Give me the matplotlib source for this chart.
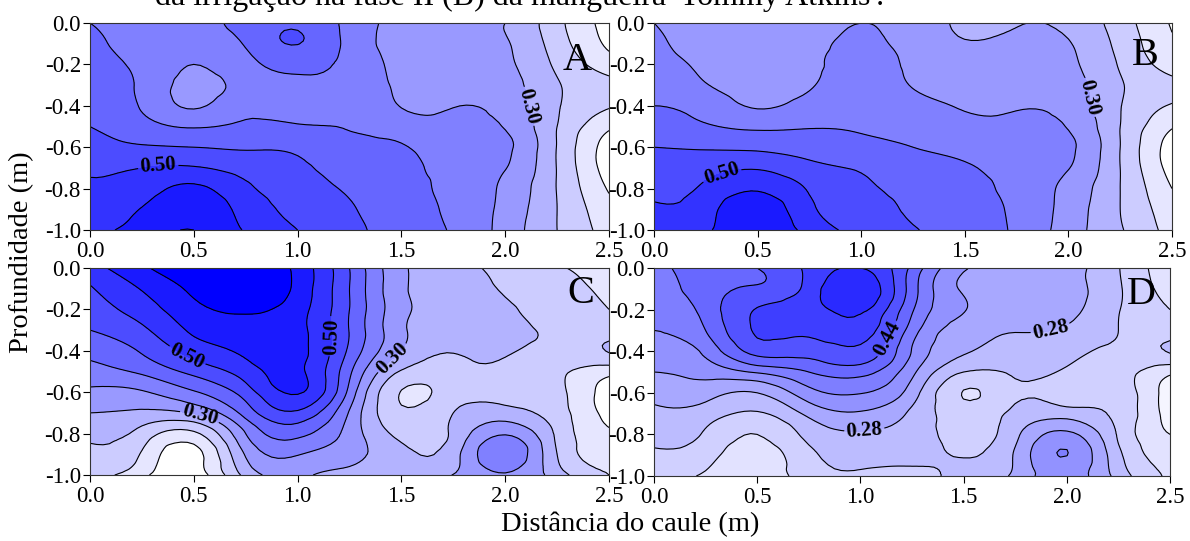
import numpy as np
import matplotlib
matplotlib.use("Agg")
import matplotlib.pyplot as plt
import matplotlib.tri as mtri

plt.rcParams['font.family'] = ['Liberation Serif', 'DejaVu Serif']

distance = [0.0, 0.25, 0.5, 0.75, 1.0, 1.25, 1.5, 1.75, 2.0, 2.25, 2.5]
depth = [0.0, -0.1, -0.2, -0.3, -0.4, -0.5, -0.6, -0.7, -0.8, -0.9, -1.0]

# each inner list is one column: values from depth 0.0 down to -1.0
panel_a = [
    [.40, .41, .42, .43, .44, .45, .467, .49, .51, .525, .54],
    [.38, .38, .385, .39, .395, .42, .455, .50, .525, .553, .57],
    [.375, .365, .35, .335, .345, .395, .45, .505, .56, .59, .60],
    [.425, .405, .385, .37, .385, .41, .445, .48, .51, .53, .545],
    [.44, .451, .415, .39, .385, .405, .44, .46, .475, .488, .50],
    [.385, .385, .385, .385, .39, .398, .413, .428, .443, .455, .465],
    [.33, .33, .335, .34, .348, .375, .405, .415, .42, .423, .425],
    [.31, .315, .32, .33, .348, .36, .37, .38, .385, .39, .395],
    [.30, .305, .31, .32, .33, .347, .36, .352, .34, .335, .33],
    [.215, .225, .24, .255, .255, .25, .248, .248, .248, .25, .25],
    [.13, .14, .175, .215, .205, .16, .125, .125, .145, .165, .18],
]
panel_b = [
    [.35, .365, .375, .39, .40, .425, .45, .47, .485, .51, .525],
    [.32, .325, .34, .352, .38, .405, .445, .48, .51, .53, .54],
    [.32, .32, .325, .33, .345, .39, .44, .495, .545, .585, .60],
    [.33, .335, .34, .345, .37, .397, .43, .463, .495, .51, .53],
    [.35, .36, .365, .375, .385, .395, .415, .445, .46, .475, .49],
    [.325, .33, .34, .347, .37, .385, .40, .415, .43, .44, .455],
    [.295, .302, .315, .33, .345, .365, .385, .405, .415, .42, .425],
    [.298, .31, .32, .33, .345, .36, .37, .38, .385, .39, .392],
    [.29, .303, .31, .32, .33, .347, .36, .352, .335, .33, .325],
    [.225, .235, .245, .255, .252, .25, .25, .25, .25, .25, .255],
    [.145, .155, .175, .215, .195, .155, .125, .13, .15, .17, .18],
]
panel_c = [
    [.53, .495, .475, .45, .415, .38, .34, .30, .265, .235, .21],
    [.59, .553, .525, .49, .455, .41, .345, .29, .23, .195, .165],
    [.65, .615, .585, .56, .52, .465, .395, .305, .19, .13, .12],
    [.66, .66, .61, .585, .56, .525, .475, .42, .35, .305, .265],
    [.585, .585, .57, .565, .565, .56, .555, .49, .415, .353, .31],
    [.45, .45, .45, .448, .44, .41, .385, .345, .33, .315, .29],
    [.31, .31, .315, .31, .298, .245, .198, .21, .235, .265, .28],
    [.27, .275, .275, .265, .252, .235, .225, .25, .26, .28, .302],
    [.23, .245, .255, .262, .255, .24, .24, .27, .345, .39, .345],
    [.205, .225, .235, .24, .235, .21, .213, .222, .24, .25, .275],
    [.165, .18, .20, .225, .254, .17, .12, .13, .16, .18, .20],
]
panel_d = [
    [.385, .38, .37, .36, .34, .32, .295, .27, .255, .23, .215],
    [.425, .42, .415, .40, .37, .335, .295, .26, .235, .215, .193],
    [.44, .447, .482, .485, .455, .365, .28, .235, .20, .18, .17],
    [.49, .495, .50, .49, .455, .40, .345, .29, .252, .23, .222],
    [.52, .555, .53, .505, .47, .415, .362, .315, .275, .255, .232],
    [.43, .42, .405, .38, .358, .33, .30, .272, .26, .25, .228],
    [.325, .315, .322, .30, .285, .24, .1985, .218, .225, .238, .25],
    [.30, .30, .295, .282, .262, .245, .232, .25, .27, .285, .29],
    [.295, .295, .29, .275, .252, .235, .225, .26, .33, .3605, .34],
    [.242, .245, .242, .24, .232, .215, .22, .228, .235, .25, .265],
    [.17, .18, .20, .22, .244, .17, .135, .14, .16, .18, .195],
]

levels_abc = [.15, .20, .25, .30, .35, .40, .45, .50, .55, .60]
levels_d = [.16, .20, .24, .28, .32, .36, .40, .44, .48, .52]
colors_abc = ['#ffffff', '#e6e6ff', '#ccccff', '#b3b3ff', '#9999ff', '#8080ff',
              '#6666ff', '#4c4cff', '#3333ff', '#1a1aff', '#0000ff']
colors_d = ['#f5f5ff', '#e2e2ff', '#d0d0ff', '#bcbcff', '#a8a8ff', '#9292ff',
            '#7e7eff', '#6868ff', '#5353ff', '#3e3eff', '#2a2aff']

xticks = [0.0, 0.5, 1.0, 1.5, 2.0, 2.5]
yticks = [0.0, -0.2, -0.4, -0.6, -0.8, -1.0]

W, H = 1190, 541
fig = plt.figure(figsize=(W / 100, H / 100), dpi=100, facecolor='white')

panels = [
    ('A', panel_a, levels_abc, colors_abc, (90, 609, 23, 230), (.938, .18),
     [(0.33, -0.71), (2.12, -0.40)]),
    ('B', panel_b, levels_abc, colors_abc, (654, 1172, 23, 230), (.948, .155),
     [(0.33, -0.74), (2.1, -0.36)]),
    ('C', panel_c, levels_abc, colors_abc, (90, 609, 268, 475), (.945, .125),
     [(0.47, -0.42), (1.15, -0.33), (1.47, -0.45), (0.53, -0.71)]),
    ('D', panel_d, levels_d, colors_d, (654, 1170, 268, 476), (.945, .125),
     [(1.13, -0.34), (1.02, -0.79), (1.92, -0.29)]),
]

grid_x, grid_y = np.meshgrid(distance, depth)
tri = mtri.Triangulation(grid_x.ravel(), grid_y.ravel())
refiner = mtri.UniformTriRefiner(tri)

for name, vals, levels, colors, (l, r, t, b), letter, lab_pos in panels:
    ax = fig.add_axes([l / W, 1 - b / H, (r - l) / W, (b - t) / H])
    z = np.array(vals).T
    # matplotlib's own contour smoothing; the read values stay as given above
    fine_tri, fine_z = refiner.refine_field(z.ravel(), subdiv=3)
    ax.tricontourf(fine_tri, fine_z, levels=[0] + levels + [1], colors=colors)
    cs = ax.tricontour(fine_tri, fine_z, levels=levels, colors='black', linewidths=0.8)
    labs = ax.clabel(cs, fmt='%.2f', fontsize=15, inline=True,
                     inline_spacing=2, manual=lab_pos)
    for txt in labs:
        txt.set_fontweight('bold')
    ax.set_xlim(0, 2.5)
    ax.set_ylim(-1, 0)
    ax.set_xticks(xticks)
    ax.set_yticks(yticks)
    ax.set_xticklabels(['%.1f' % v for v in xticks])
    ax.set_yticklabels(['%.1f' % v for v in yticks])
    ax.tick_params(labelsize=16.5, length=5, width=0.8, direction='out')
    ax.tick_params(axis='x', pad=3)
    ax.tick_params(axis='y', pad=1.5)
    for s in ax.spines.values():
        s.set_linewidth(0.8)
        s.set_color('#333333')
    ax.text(letter[0], 1 - letter[1], name, transform=ax.transAxes, fontsize=29,
            ha='center', va='center', color='black')

fig.text(22 / W, 1 - 252 / H, 'Profundidade (m)', rotation=90, fontsize=20.5,
         ha='center', va='center')
fig.text(630 / W, 1 - 524 / H, 'Distância do caule (m)', fontsize=20.5,
         ha='center', va='center')
fig.text(155 / W, 1 - 5 / H, "da irrigação na fase II (B) da mangueira 'Tommy Atkins'.",
         fontsize=23, ha='left', va='baseline')

fig.savefig('out.png', dpi=100)
